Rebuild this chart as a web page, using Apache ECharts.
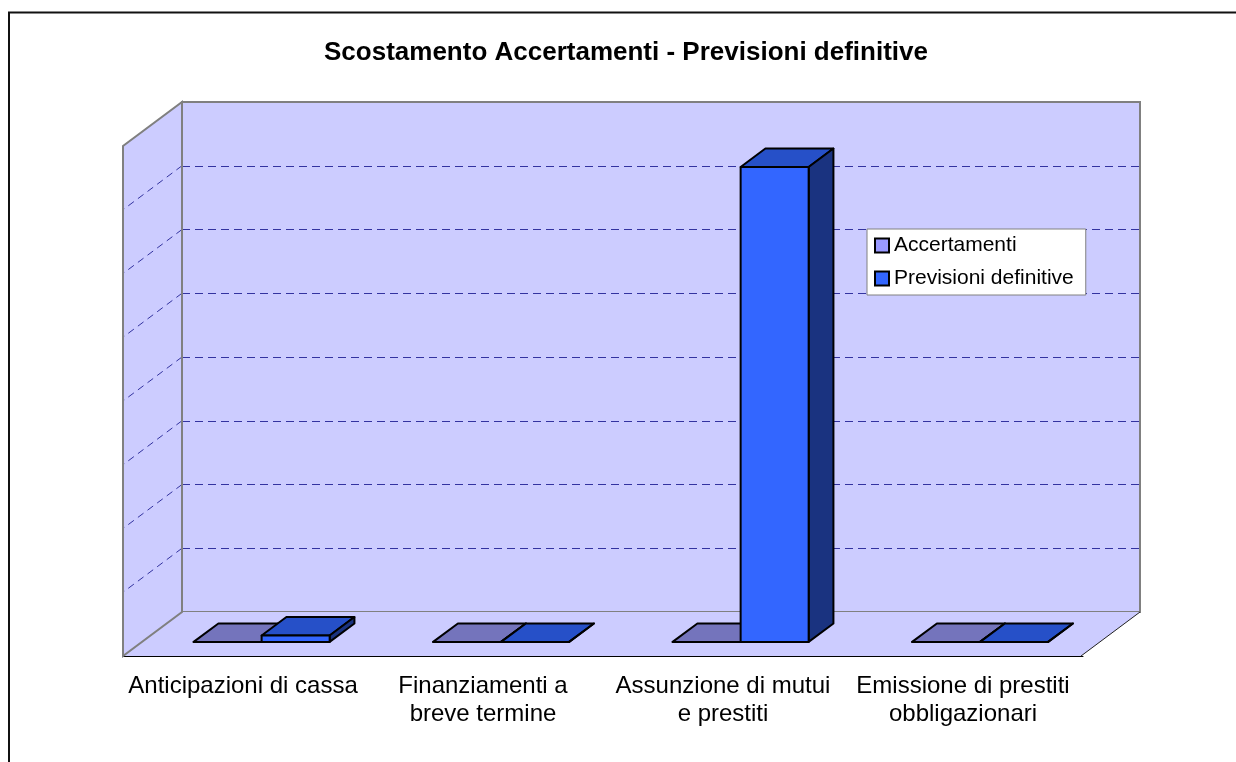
<!DOCTYPE html>
<html>
<head>
<meta charset="utf-8">
<title>Scostamento Accertamenti - Previsioni definitive</title>
<script src="https://cdn.jsdelivr.net/npm/echarts@6/dist/echarts.min.js"></script>
<style>
  html, body { margin: 0; padding: 0; background: #fff; }
  #chart { width: 1236px; height: 762px; }
</style>
</head>
<body>
<div id="chart"></div>
<script>
var categories = [
  "Anticipazioni di cassa",
  "Finanziamenti a\nbreve termine",
  "Assunzione di mutui\ne prestiti",
  "Emissione di prestiti\nobbligazionari"
];
var seriesNames = ["Accertamenti", "Previsioni definitive"];
var accertamenti = [0, 0, 0, 0];
var previsioniDefinitive = [10000, 0, 745000, 0];
var yMax = 800000;
var yStep = 100000;

// fake 3D: front edge of the floor is shifted from the back wall by this
var DEPTH_X = -59, DEPTH_Y = 44;
var BAR_BACK = 0.26, BAR_FRONT = 0.68; // bars sit in the middle of the depth
var BAR_FRAC = 0.284;                  // one bar = part of a category
var WALL = "#ccccff";
var GRID_LINE = "#3333a0";
var FONT = "Arial, 'Liberation Sans', sans-serif";

var faces = [
  { front: "#9999ff", top: "#7474bc", side: "#4d4d80", legend: "#9999ff" },
  { front: "#3366ff", top: "#2650c8", side: "#1a3380", legend: "#3366ff" }
];

function toPairs(arr) {
  return arr.map(function (v, i) { return [i, v]; });
}

function wallRender(params, api) {
  var cs = params.coordSys;
  var L = cs.x, R = cs.x + cs.width, T = cs.y, B = cs.y + cs.height;
  var children = [];
  // left wall + floor
  children.push({
    type: "polygon",
    shape: { points: [[L, T], [L, B], [L + DEPTH_X, B + DEPTH_Y], [L + DEPTH_X, T + DEPTH_Y]] },
    style: { fill: WALL }
  });
  children.push({
    type: "polygon",
    shape: { points: [[L, B], [R, B], [R + DEPTH_X, B + DEPTH_Y], [L + DEPTH_X, B + DEPTH_Y]] },
    style: { fill: WALL }
  });
  // dashed lines on the side wall
  for (var t = yStep; t < yMax; t += yStep) {
    var y = api.coord([0, t])[1];
    children.push({
      type: "line",
      shape: { x1: L, y1: y, x2: L + DEPTH_X, y2: y + DEPTH_Y },
      style: { stroke: GRID_LINE, lineWidth: 1, lineDash: [7, 5] }
    });
  }
  // outlines
  children.push({
    type: "polygon",
    shape: { points: [[L + DEPTH_X, B + DEPTH_Y], [L + DEPTH_X, T + DEPTH_Y], [L, T], [L, B]] },
    style: { fill: null, stroke: "#808080", lineWidth: 2 }
  });
  children.push({
    type: "line",
    shape: { x1: R, y1: B, x2: R + DEPTH_X, y2: B + DEPTH_Y },
    style: { stroke: "#222", lineWidth: 1 }
  });
  return { type: "group", children: children };
}

function barRender(sIdx) {
  return function (params, api) {
    var i = api.value(0), v = api.value(1);
    var base = api.coord([i, 0]);
    var top = api.coord([i, v]);
    var w = api.size([1, 0])[0] * BAR_FRAC;
    var x0 = sIdx === 0 ? base[0] - w : base[0];
    var x1 = x0 + w;
    var fx = DEPTH_X * BAR_FRONT, fy = DEPTH_Y * BAR_FRONT;
    var bx = DEPTH_X * BAR_BACK, by = DEPTH_Y * BAR_BACK;
    var c = faces[sIdx];
    var yt = top[1], yb = base[1];
    return {
      type: "group",
      children: [
        {
          type: "polygon",
          shape: { points: [[x0 + fx, yt + fy], [x1 + fx, yt + fy], [x1 + bx, yt + by], [x0 + bx, yt + by]] },
          style: { fill: c.top, stroke: "#000", lineWidth: 2, lineJoin: "round" }
        },
        {
          type: "polygon",
          shape: { points: [[x1 + fx, yt + fy], [x1 + bx, yt + by], [x1 + bx, yb + by], [x1 + fx, yb + fy]] },
          style: { fill: c.side, stroke: "#000", lineWidth: 2, lineJoin: "round" }
        },
        {
          type: "polygon",
          shape: { points: [[x0 + fx, yt + fy], [x1 + fx, yt + fy], [x1 + fx, yb + fy], [x0 + fx, yb + fy]] },
          style: { fill: c.front, stroke: "#000", lineWidth: 2, lineJoin: "round" }
        }
      ]
    };
  };
}

var chart = echarts.init(document.getElementById("chart"));
chart.setOption({
  backgroundColor: "#fff",
  animation: false,
  title: {
    text: "Scostamento Accertamenti - Previsioni definitive",
    left: 626,
    textAlign: "center",
    top: 40,
    padding: 0,
    textStyle: { fontFamily: FONT, fontSize: 26, fontWeight: "bold", color: "#000" }
  },
  legend: {
    orient: "vertical",
    left: 867,
    top: 229,
    padding: [6, 12, 6, 7],
    itemGap: 12,
    itemWidth: 14,
    itemHeight: 14,
    backgroundColor: "#fff",
    borderColor: "#808080",
    borderWidth: 1,
    borderRadius: 0,
    textStyle: { fontFamily: FONT, fontSize: 21, color: "#000" },
    data: seriesNames.map(function (n, k) {
      return { name: n, icon: "rect", itemStyle: { color: faces[k].legend, borderColor: "#000", borderWidth: 2 } };
    })
  },
  graphic: [{
    type: "rect",
    shape: { x: 9, y: 12.5, width: 1400, height: 1000 },
    style: { fill: null, stroke: "#111", lineWidth: 2 },
    silent: true,
    z: -10
  }],
  grid: [
    {
      left: 182, top: 102, width: 958, height: 510,
      show: true, backgroundColor: WALL, borderColor: "#808080", borderWidth: 2
    },
    { left: 123, top: 655, width: 960, height: 1 }
  ],
  xAxis: [
    {
      type: "category", gridIndex: 0, data: categories,
      axisLine: { show: false }, axisTick: { show: false }, axisLabel: { show: false }
    },
    {
      type: "category", gridIndex: 1, data: categories, position: "bottom",
      axisLine: { lineStyle: { color: "#000", width: 1 } },
      axisTick: { length: 9, lineStyle: { color: "#333" } },
      axisLabel: {
        interval: 0, margin: 16, fontFamily: FONT, fontSize: 24, lineHeight: 28,
        color: "#000", align: "center"
      }
    }
  ],
  yAxis: [
    {
      type: "value", gridIndex: 0, min: 0, max: yMax, interval: yStep,
      axisLine: { show: false }, axisTick: { show: false }, axisLabel: { show: false },
      splitLine: {
        show: true, showMinLine: false, showMaxLine: false,
        lineStyle: { color: GRID_LINE, width: 1, type: [8, 5] }
      }
    },
    { type: "value", gridIndex: 1, show: false }
  ],
  series: [
    {
      type: "custom", name: "walls", xAxisIndex: 0, yAxisIndex: 0,
      data: [[0, 0]], renderItem: wallRender, silent: true, z: 1
    },
    {
      type: "custom", name: seriesNames[0], xAxisIndex: 0, yAxisIndex: 0,
      data: toPairs(accertamenti), encode: { x: 0, y: 1 },
      renderItem: barRender(0), z: 3
    },
    {
      type: "custom", name: seriesNames[1], xAxisIndex: 0, yAxisIndex: 0,
      data: toPairs(previsioniDefinitive), encode: { x: 0, y: 1 },
      renderItem: barRender(1), z: 4
    }
  ]
});
</script>
</body>
</html>
